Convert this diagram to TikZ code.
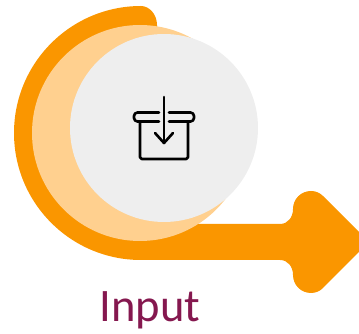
\documentclass[tikz,border=0pt]{standalone}
\usepackage{fontspec}
\setmainfont{Carlito}
\definecolor{orng}{RGB}{250,150,0}
\definecolor{lorng}{RGB}{255,208,143}
\definecolor{disc}{RGB}{238,238,238}
\definecolor{lbl}{RGB}{133,24,79}
\tikzset{
  band/.style={fill=orng,draw=none},
  crescent/.style={fill=lorng,draw=none},
  icn/.style={draw=black,line width=1.5pt,line cap=round,line join=round},
  lbltext/.style={font=\fontsize{26.5}{30}\selectfont,text=lbl,inner sep=0pt,anchor=base},
}
\begin{document}
\begin{tikzpicture}[x=0.02cm,y=-0.02cm]
    \useasboundingbox (0,0) rectangle (359,334);

    % ── Orange band and arrow ─────────────────────────────────────────────────
    \path[band] (141,6) arc[start angle=-90,end angle=-270,radius=127]
      -- (280,260)
      .. controls (288,260) and (293,267) .. (293,275)
      .. controls (293,285) and (301,293) .. (311,293)
      .. controls (316,293) and (320,291) .. (323,288)
      -- (359,252) -- (359,232) -- (323,196)
      .. controls (320,193) and (316,191) .. (311,191)
      .. controls (301,191) and (293,199) .. (293,209)
      .. controls (293,217) and (288,224) .. (280,224)
      -- (157,224) -- (157,25)
      .. controls (157,14) and (149,6) .. (141,6) -- cycle;

    % ── Discs ─────────────────────────────────────────────────────────────────
    \path[crescent] (140,133) circle[radius=108];
    \path[fill=disc] (164,128) circle[radius=94];

    % ── Icon ──────────────────────────────────────────────────────────────────
    \draw[icn,rounded corners=2pt] (159,112.5) -- (134,112.5) -- (134,121.5) -- (159,121.5);
    \draw[icn,rounded corners=2pt] (169,112.5) -- (194,112.5) -- (194,121.5) -- (169,121.5);
    \draw[icn,rounded corners=1pt] (140,122) -- (140,159) -- (188,159) -- (188,122);
    \draw[icn] (164,97) -- (164,143);
    \draw[icn] (155,133) -- (164,143) -- (173,133);

    \node[lbltext] (lbl) at (150,322) {Input};

  \end{tikzpicture}
\end{document}
